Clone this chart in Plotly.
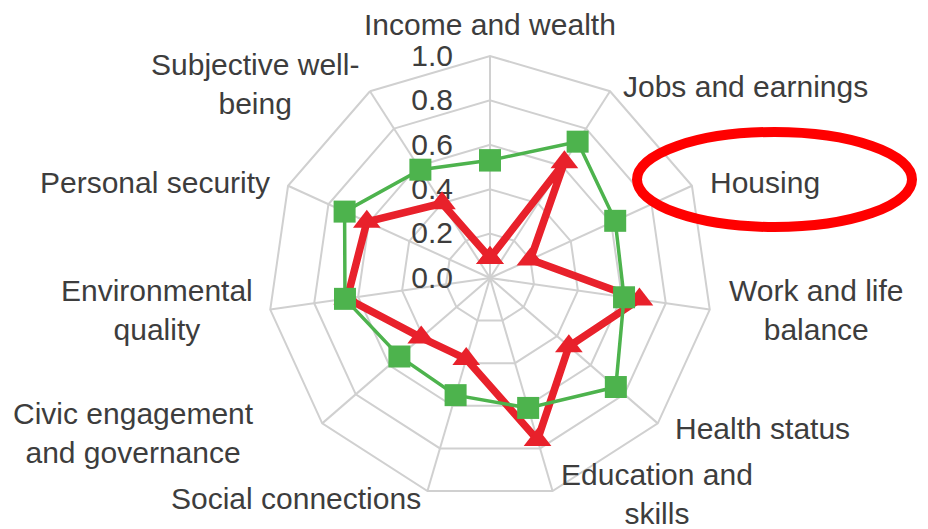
import plotly.graph_objects as go

# ---- data ----
categories = [
    "Income and wealth", "Jobs and earnings", "Housing", "Work and life balance",
    "Health status", "Education and skills", "Social connections",
    "Civic engagement and governance", "Environmental quality",
    "Personal security", "Subjective well-being",
]
label_text = [
    "Income and wealth", "Jobs and earnings", "Housing", "Work and life<br>balance",
    "Health status", "Education and<br>skills", "Social connections",
    "Civic engagement<br>and governance", "Environmental<br>quality",
    "Personal security", "Subjective well-<br>being",
]
green_values = [0.53, 0.73, 0.62, 0.61, 0.75, 0.61, 0.55, 0.54, 0.66, 0.72, 0.58]
red_values = [0.09, 0.62, 0.20, 0.68, 0.47, 0.76, 0.38, 0.41, 0.65, 0.61, 0.40]
radial_ticks = [0.0, 0.2, 0.4, 0.6, 0.8, 1.0]

# ---- layout helpers ----
W, H = 928, 529
OFF = 8  # page body margin offsets the figure by 8px
label_px = [(490, 25), (745, 87), (765, 182), (816, 310), (762, 428), (657, 494),
            (296, 498), (133, 433), (157, 310), (155, 182), (255, 84)]
cx, cy, R = 490 - OFF, 278 - OFF, 222

def px_x(x):
    return x / W

def px_y(y):
    return 1 - y / H

RED = "#e8212b"
GREEN = "#4db34d"
GRID = "#d0d0d0"
TEXT = "#3d3d3d"
FONT = "Liberation Sans, Arial"

fig = go.Figure()
fig.add_trace(go.Scatterpolar(
    r=red_values + red_values[:1], theta=categories + categories[:1],
    mode="lines+markers",
    line=dict(color=RED, width=7.5),
    marker=dict(symbol="triangle-up", size=24, color=RED),
    showlegend=False, cliponaxis=False,
))
fig.add_trace(go.Scatterpolar(
    r=green_values + green_values[:1], theta=categories + categories[:1],
    mode="lines+markers",
    line=dict(color=GREEN, width=3.5),
    marker=dict(symbol="square", size=22, color=GREEN),
    showlegend=False, cliponaxis=False,
))

annotations = []
for txt, (x, y) in zip(label_text, label_px):
    annotations.append(dict(
        x=px_x(x - OFF), y=px_y(y - OFF), xref="paper", yref="paper",
        text=txt, showarrow=False, xanchor="center", yanchor="middle",
        align="center", font=dict(family=FONT, size=30, color=TEXT),
    ))

fig.update_layout(
    width=W, height=H,
    margin=dict(l=0, r=0, t=0, b=0),
    paper_bgcolor="white",
    plot_bgcolor="white",
    font=dict(family=FONT, size=30, color=TEXT),
    polar=dict(
        domain=dict(x=[(cx - R) / W, (cx + R) / W],
                    y=[(H - cy - R) / H, (H - cy + R) / H]),
        bgcolor="white",
        gridshape="linear",
        angularaxis=dict(
            type="category", direction="clockwise", rotation=90,
            showticklabels=False, ticks="",
            showgrid=True, gridcolor=GRID, gridwidth=2,
            showline=True, linecolor=GRID, linewidth=2,
        ),
        radialaxis=dict(
            range=[0, 1], tickvals=radial_ticks,
            ticktext=[f"{v:.1f}" for v in radial_ticks],
            angle=90, side="counterclockwise", tickangle=90,
            ticks="outside", ticklen=26, tickcolor="rgba(0,0,0,0)",
            showline=False, showgrid=True, gridcolor=GRID, gridwidth=2,
            tickfont=dict(family=FONT, size=30, color=TEXT),
            layer="below traces",
        ),
    ),
    annotations=annotations,
    shapes=[dict(
        type="circle", xref="paper", yref="paper",
        x0=px_x(637 - OFF), x1=px_x(912 - OFF), y0=px_y(227 - OFF), y1=px_y(132 - OFF),
        line=dict(color="#ff0000", width=10),
    )],
)

fig.write_html("out.html")
